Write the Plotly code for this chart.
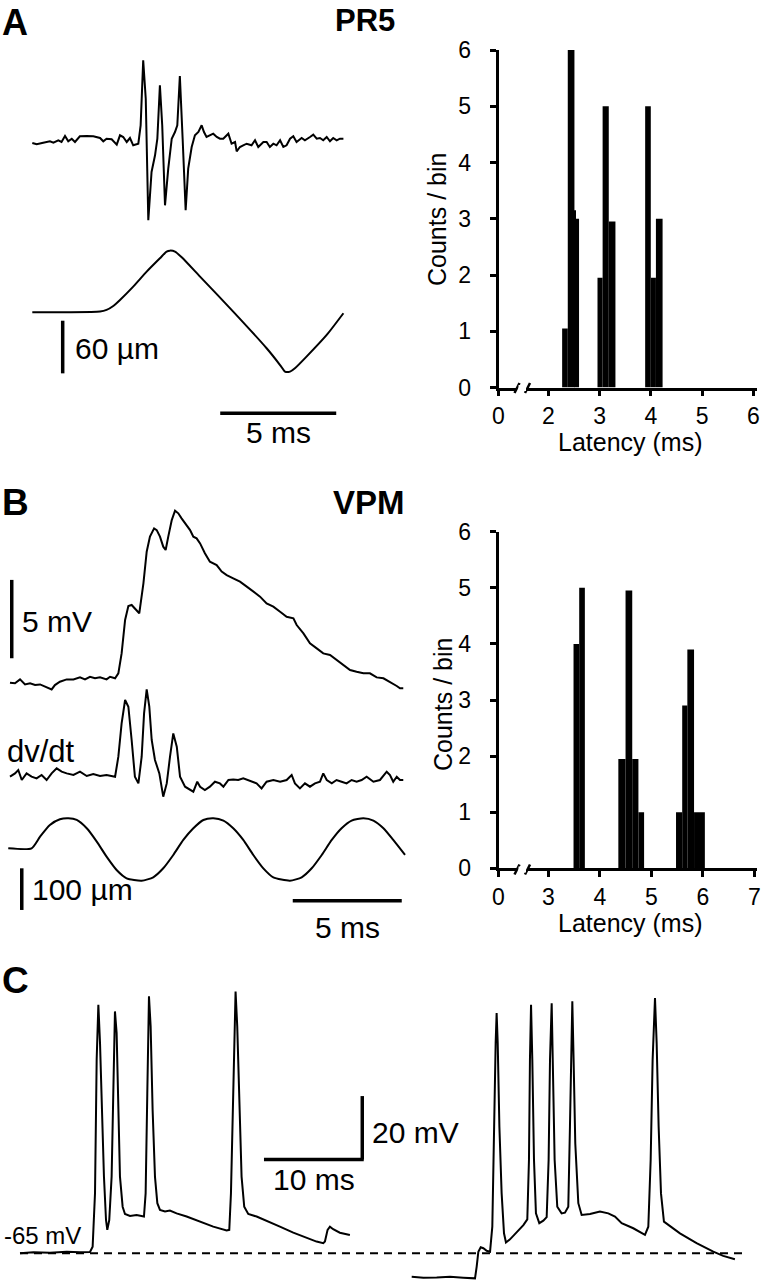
import plotly.graph_objects as go

W, H = 761, 1280
FONT = "Liberation Sans, Arial, Helvetica, sans-serif"

# ---------------- DATA ----------------
# Panel A (PR5): extracellular spike trace (a.u.) and whisker deflection (um), time in ms
A_spike_t = [0.00, 0.19, 0.47, 0.76, 0.91, 1.12, 1.26, 1.41, 1.55, 1.70,
             1.84, 2.05, 2.34, 2.63, 2.92, 3.06, 3.20, 3.42, 3.64, 3.78,
             3.92, 4.07, 4.21, 4.35, 4.57, 4.67, 4.78, 4.89, 5.00, 5.14,
             5.29, 5.39, 5.50, 5.60, 5.72, 5.86, 6.01, 6.15, 6.25, 6.36,
             6.48, 6.61, 6.72, 6.87, 7.01, 7.16, 7.30, 7.40, 7.51, 7.66,
             7.80, 7.95, 8.09, 8.23, 8.45, 8.59, 8.74, 8.81, 8.95, 9.09,
             9.24, 9.45, 9.60, 9.74, 9.96, 10.10, 10.24, 10.39, 10.53, 10.68,
             10.82, 10.96, 11.11, 11.25, 11.39, 11.61, 11.75, 11.97, 12.11, 12.26,
             12.40, 12.54, 12.69, 12.83, 12.97, 13.12, 13.26, 13.41]
A_spike_v = [0, -1.3, 0.3, 1.7, 0.3, 2.7, 1, 7, 1.7, 4.3,
             1, 6.7, 7, 6.7, 5, 1.7, 4.3, 3.7, -1.7, 7.7,
             6, 1, 5, -2.3, -0.7, 17.7, 82.7, 44.3, -77.3, -29,
             -12.3, 4.3, 57.7, 17.7, -62.3, -25.7, 4.3, 11, 17.7, 67,
             4.3, -67.3, -25.7, -4, 7.7, 11, 17.7, 11, 6, 7.7,
             9.3, 6, 4.3, 4.3, 9.3, -0.7, 1, -8.3, -4, -2.3,
             -0.7, -2.3, 2.7, -4, 1, 1, -4, -0.7, -2.3, 2.7,
             -4, -2.3, 4.3, 6.7, 1, 5, 2.7, 6, 8.3, 4.3,
             5, 2.7, 6, 1.7, 5, 2.7, 4.3, 4.3]
A_stim_t = [0.00, 1.48, 2.92, 3.20, 3.49, 3.78, 4.35, 4.93, 5.50, 5.79, 5.93, 6.15,
            6.44, 7.23, 8.66, 10.10, 10.68, 10.89, 11.11, 11.32, 11.82, 12.69, 13.41]
A_stim_um = [0, 0, 0.8, 2.7, 7.2, 14.1, 29.3, 46.4, 61.6, 69.2, 70.3, 69.2,
             62.7, 40.7, 0.8, -41, -60.1, -67.6, -67.6, -63.8, -50.5, -25.8, -1.1]

# PR5 latency histogram (bin edges in ms, counts)
PR5_bin_left = [2.27, 2.38, 2.51, 2.54, 2.96, 3.06, 3.18, 3.89, 4.00, 4.10]
PR5_bin_right = [2.38, 2.51, 2.54, 2.60, 3.06, 3.18, 3.31, 4.00, 4.10, 4.23]
PR5_counts = [1.05, 6, 3.15, 3, 1.95, 5, 2.95, 5, 1.95, 3]
PR5_xticks = [2, 3, 4, 5, 6]

# Panel B (VPM): EPSP (mV), dv/dt (a.u.), whisker deflection (um), time in ms
B_epsp_t = [0, 0.23, 0.46, 0.69, 0.92, 1.15, 1.38, 1.61, 1.91, 2.06,
            2.29, 2.60, 2.91, 3.21, 3.44, 3.67, 3.90, 4.13, 4.43, 4.59,
            4.82, 4.97, 5.12, 5.28, 5.43, 5.58, 5.73, 5.93, 6.12, 6.27,
            6.42, 6.61, 6.73, 6.88, 7.03, 7.14, 7.26, 7.42, 7.57, 7.72,
            7.87, 8.03, 8.26, 8.41, 8.56, 8.72, 8.94, 9.17, 9.48, 9.71,
            9.94, 10.24, 10.55, 10.86, 11.16, 11.47, 11.77, 12.08, 12.39, 12.69,
            13.00, 13.15, 13.46, 13.76, 14.07, 14.37, 14.68, 14.98, 15.29, 15.60,
            15.90, 16.21, 16.51, 16.82, 17.13, 17.43, 17.74, 17.89, 18.04]
B_epsp_mv = [0, -0.04, 0.21, -0.11, -0.04, -0.15, -0.11, -0.26, -0.43, -0.15,
             0.06, 0.21, 0.21, 0.34, 0.21, 0.38, 0.28, 0.34, 0.21, 0.38,
             0.28, 0.60, 1.87, 4.00, 4.89, 4.96, 4.74, 4.43, 6.34, 8.36,
             9.32, 9.85, 9.74, 9.32, 8.68, 8.47, 9.32, 10.38, 10.98, 10.81,
             10.49, 10.17, 9.74, 9.32, 9.21, 8.89, 8.26, 7.72, 7.51, 7.09,
             6.87, 6.66, 6.45, 6.13, 5.81, 5.49, 5.06, 4.85, 4.53, 4.21,
             4.11, 3.68, 3.15, 2.51, 2.19, 1.87, 1.77, 1.45, 1.13, 0.81,
             0.70, 0.60, 0.60, 0.34, 0.28, 0.06, -0.21, -0.36, -0.36]
B_dvdt_t = [0, 0.23, 0.38, 0.54, 0.76, 0.99, 1.22, 1.45, 1.68, 1.91,
            2.14, 2.37, 2.60, 2.91, 3.21, 3.52, 3.82, 4.13, 4.43, 4.82,
            4.97, 5.12, 5.28, 5.43, 5.58, 5.73, 5.89, 6.04, 6.15, 6.27,
            6.39, 6.50, 6.65, 6.85, 7.03, 7.19, 7.34, 7.49, 7.65, 7.80,
            8.03, 8.26, 8.41, 8.59, 8.72, 8.94, 9.17, 9.40, 9.63, 9.79,
            10.02, 10.24, 10.47, 10.70, 10.93, 11.16, 11.31, 11.54, 11.77, 12.08,
            12.39, 12.69, 12.92, 13.07, 13.30, 13.53, 13.76, 13.99, 14.22, 14.37,
            14.53, 14.76, 14.98, 15.21, 15.44, 15.67, 15.90, 16.13, 16.36, 16.67,
            16.97, 17.28, 17.43, 17.58, 17.74, 17.89, 18.04]
B_dvdt_v = [0, 3.3, 6.7, -3.3, 3.3, 0, -1.7, 1.7, -3.3, 3.3,
            8.3, 5, 3.3, 1.7, 5, 0.7, 2.7, 0.7, 1.7, 0,
            20, 53.3, 76.7, 70, 36.7, 0, -6.7, 20, 63.3, 87.3,
            70, 36.7, 16.7, 3.3, -20, -6.7, 20, 43.3, 30, 0,
            -10, -13.3, -15, -5, -10, -13.3, -10, -5, -6.7, -10,
            -3.3, -2.7, -3.3, -1.7, -3.3, -5, -6.7, -11.7, -5, -3.3,
            -5, -3.3, 1.7, -6.7, -11.7, -6.7, -10, -6.7, -5, 3.3,
            -3.3, -6.7, -3.3, -5, -6.7, -3.3, -5, -3.3, 0, -5,
            -3.3, 5, 1.7, -5, 0, -3.3, -3.3]
B_stim_t = [-0.08, 0.99, 1.38, 1.83, 2.29, 2.68, 3.06, 3.52, 3.98, 4.43,
            4.89, 5.35, 6.04, 6.57, 7.03, 7.49, 7.95, 8.41, 8.87, 9.33,
            9.79, 10.24, 10.70, 11.16, 11.62, 12.08, 12.84, 13.38, 13.84, 14.30,
            14.76, 15.21, 15.67, 16.21, 16.67, 17.13, 17.58, 18.12]
B_stim_um = [0, 0, 28, 56, 69.6, 72, 68, 48, 16, -20,
             -52, -72, -77.6, -69.6, -48, -16, 20, 48, 68, 72,
             66.4, 48, 20, -16, -48, -69.6, -77.6, -69.6, -48, -16,
             20, 48, 66.4, 72, 66.4, 48, 20, -16]

# VPM latency histogram
VPM_bin_left = [3.49, 3.60, 4.36, 4.50, 4.63, 4.75, 5.48, 5.60, 5.70, 5.83]
VPM_bin_right = [3.60, 3.71, 4.50, 4.63, 4.75, 4.86, 5.60, 5.70, 5.83, 6.04]
VPM_counts = [4, 5, 1.95, 4.95, 1.95, 1, 1, 2.9, 3.9, 1]
VPM_xticks = [3, 4, 5, 6, 7]
COUNT_TICKS = [0, 1, 2, 3, 4, 5, 6]

# Panel C: membrane potential (mV), time in ms
C1_t = [0, 1.36, 3.05, 4.75, 6.10, 7.12, 7.39, 7.63, 7.80, 7.97,
        8.14, 8.31, 8.54, 8.75, 8.88, 9.08, 9.32, 9.49, 9.66, 9.83,
        10.00, 10.17, 10.44, 10.68, 11.19, 11.86, 12.61, 12.78, 12.95, 13.12,
        13.29, 13.49, 13.73, 13.97, 14.24, 14.75, 15.25, 15.93, 16.95, 18.31,
        19.66, 21.02, 21.29, 21.46, 21.69, 21.93, 22.10, 22.31, 22.54, 22.81,
        23.22, 24.07, 25.08, 26.44, 27.80, 29.15, 30.17, 30.85, 31.02, 31.29,
        31.53, 31.86, 32.54, 33.56]
C1_mv = [-65, -64.7, -64.8, -64.5, -64.7, -64.6, -62.9, -46.1, -3.9, 13.4,
         1.3, -19.7, -40.8, -54.5, -57.6, -54.5, -40.8, -14.5, 11.3, 4.5,
         -19.7, -40.8, -50.3, -52.6, -53.2, -52.9, -53.4, -46.1, -14.5, 16.1,
         6.6, -19.7, -40.8, -49.2, -51.3, -51.8, -51.5, -52.4, -53.4, -55.0,
         -56.6, -57.8, -57.6, -46.1, -14.5, 17.6, 6.6, -19.7, -40.8, -50.3,
         -52.6, -53.4, -54.7, -56.6, -58.5, -60.1, -61.3, -61.8, -61.3, -57.6,
         -56.6, -57.4, -58.5, -59.2]
C2_t = [0, 1.19, 2.54, 3.90, 5.25, 6.44, 6.61, 6.78, 7.02, 7.29,
        7.63, 7.97, 8.20, 8.37, 8.54, 8.64, 8.75, 8.92, 9.15, 9.39,
        9.59, 10.00, 10.68, 11.36, 11.76, 11.93, 12.03, 12.14, 12.27, 12.44,
        12.64, 12.98, 13.39, 13.73, 13.93, 14.07, 14.24, 14.37, 14.54, 14.81,
        15.25, 15.59, 15.93, 16.10, 16.24, 16.34, 16.47, 16.64, 16.95, 17.29,
        18.14, 19.15, 20.00, 20.68, 21.36, 22.54, 23.73, 24.07, 24.31, 24.51,
        24.75, 24.92, 25.12, 25.36, 25.66, 26.27, 27.29, 28.98, 30.68, 31.69,
        32.88]
C2_mv = [-72.4, -72.7, -72.6, -72.4, -72.7, -72.9, -69.2, -64.5, -63.1, -63.4,
         -64.2, -64.5, -56.6, -25.0, 1.3, 10.8, 1.3, -25.0, -46.1, -58.7,
         -61.6, -60.6, -58.5, -56.1, -54.3, -35.5, -3.9, 13.4, -3.9, -35.5,
         -52.4, -55.5, -54.7, -53.6, -35.5, -3.9, 13.9, -3.9, -35.5, -50.3,
         -52.4, -52.2, -50.3, -25.0, 1.3, 14.5, -3.9, -30.3, -49.2, -52.9,
         -52.6, -51.8, -52.4, -53.4, -55.5, -57.1, -59.2, -56.6, -35.5, -3.9,
         15.5, 1.3, -25.0, -46.1, -55.0, -56.4, -58.7, -61.8, -64.5, -65.8,
         -66.9]
C_rest_mv = -65

# ---------------- LAYOUT HELPERS ----------------
def dx(p0, p1):
    return [p0 / W, p1 / W]


def dy(top, bot):
    return [1 - bot / H, 1 - top / H]


def px(p):
    return p / W


def py(p):
    return 1 - p / H


def trange(p0, p1, t0_px, px_per):
    return [(p0 - t0_px) / px_per, (p1 - t0_px) / px_per]


def vrange(top, bot, base_px, base_val, px_per):
    return [base_val - (bot - base_px) / px_per, base_val + (base_px - top) / px_per]


fig = go.Figure()
LINE = dict(color="black", width=2)


def add_line(t, v, xa, ya, shape="linear", smoothing=1.0):
    ln = dict(LINE, shape=shape)
    if shape == "spline":
        ln["smoothing"] = smoothing
    fig.add_trace(go.Scatter(x=t, y=v, mode="lines", line=ln,
                             xaxis=xa, yaxis=ya, hoverinfo="skip", showlegend=False))


hidden = dict(visible=False, fixedrange=True, showgrid=False, zeroline=False, automargin=False)
layout_axes = {}

# Panel A traces
A_T0, A_PPMS = 32.3, 23.2
layout_axes["xaxis"] = dict(hidden, domain=dx(0, 400), range=trange(0, 400, A_T0, A_PPMS), anchor="y")
layout_axes["yaxis"] = dict(hidden, domain=dy(50, 232), range=vrange(50, 232, 143, 0, 1.0), anchor="x")
layout_axes["xaxis2"] = dict(hidden, domain=dx(0, 400), range=trange(0, 400, A_T0, A_PPMS), anchor="y2")
layout_axes["yaxis2"] = dict(hidden, domain=dy(240, 392), range=vrange(240, 392, 312.3, 0, 1 / 1.14), anchor="x2")
add_line(A_spike_t, A_spike_v, "x", "y")
add_line(A_stim_t, A_stim_um, "x2", "y2", shape="spline", smoothing=0.6)

# Panel B traces
B_T0, B_PPMS = 10, 21.8
for i in (5, 6, 7):
    layout_axes[f"xaxis{i}"] = dict(hidden, domain=dx(0, 420), range=trange(0, 420, B_T0, B_PPMS), anchor=f"y{i}")
layout_axes["yaxis5"] = dict(hidden, domain=dy(500, 700), range=vrange(500, 700, 682.7, 0, 15.67), anchor="x5")
layout_axes["yaxis6"] = dict(hidden, domain=dy(680, 812), range=vrange(680, 812, 776.7, 0, 1.0), anchor="x6")
layout_axes["yaxis7"] = dict(hidden, domain=dy(812, 925), range=vrange(812, 925, 848.3, 0, 1 / 2.4), anchor="x7")
add_line(B_epsp_t, B_epsp_mv, "x5", "y5")
add_line(B_dvdt_t, B_dvdt_v, "x6", "y6")
add_line(B_stim_t, B_stim_um, "x7", "y7", shape="spline", smoothing=0.6)

# Panel C traces
C_PPMS, C_PPMV, C_BASE_PX = 9.83, 3.17, 1253.3
layout_axes["xaxis10"] = dict(hidden, domain=dx(0, 385), range=trange(0, 385, 20, C_PPMS), anchor="y10")
layout_axes["yaxis10"] = dict(hidden, domain=dy(955, 1280), range=vrange(955, 1280, C_BASE_PX, C_rest_mv, C_PPMV), anchor="x10")
layout_axes["xaxis11"] = dict(hidden, domain=dx(385, 761), range=trange(385, 761, 411.7, C_PPMS), anchor="y11")
layout_axes["yaxis11"] = dict(hidden, domain=dy(955, 1280), range=vrange(955, 1280, C_BASE_PX, C_rest_mv, C_PPMV), anchor="x11")
add_line(C1_t, C1_mv, "x10", "y10")
add_line(C2_t, C2_mv, "x11", "y11")

# Histograms
axstyle = dict(showline=True, linecolor="black", linewidth=2.5, ticks="outside", ticklen=6,
               tickwidth=2.5, tickcolor="black", showgrid=False, zeroline=False, fixedrange=True,
               automargin=False, tickfont=dict(family=FONT, size=23, color="black"))


def add_hist(left, right, counts, xticks, main_x, stub_x, ya, y_top, y_bot, x0_px, tick0_px, ppms):
    centers = [(l + r) / 2 for l, r in zip(left, right)]
    widths = [r - l for l, r in zip(left, right)]
    fig.add_trace(go.Bar(x=centers, y=counts, width=widths, marker=dict(color="black", line=dict(width=0)),
                         xaxis=main_x, yaxis=ya, hoverinfo="skip", showlegend=False))
    fig.add_trace(go.Scatter(x=[0], y=[0], mode="markers", marker=dict(opacity=0),
                             xaxis=stub_x, yaxis=ya, hoverinfo="skip", showlegend=False))
    mi = main_x[1:]
    si = stub_x[1:]
    yi = ya[1:]
    first = xticks[0]
    layout_axes[f"xaxis{mi}"] = dict(axstyle, domain=dx(527, 757), anchor=ya,
                                     range=[first - (tick0_px - 527) / ppms, first + (757 - tick0_px) / ppms],
                                     tickvals=xticks, ticktext=[str(v) for v in xticks])
    layout_axes[f"xaxis{si}"] = dict(axstyle, domain=dx(x0_px, 517), anchor=ya,
                                     range=[0, (517 - x0_px) / ppms], tickvals=[0], ticktext=["0"])
    layout_axes[f"yaxis{yi}"] = dict(axstyle, domain=dy(y_top, y_bot), anchor=stub_x, range=[0, 6],
                                     tickvals=COUNT_TICKS, ticktext=[str(v) for v in COUNT_TICKS],
                                     ticklabelstandoff=14)


add_hist(PR5_bin_left, PR5_bin_right, PR5_counts, PR5_xticks, "x3", "x4", "y3", 50, 387.5, 498.5, 548.3, 51.25)
add_hist(VPM_bin_left, VPM_bin_right, VPM_counts, VPM_xticks, "x8", "x9", "y8", 531.7, 868.3, 498.5, 548.3, 51.5)

# ---------------- SHAPES (scale bars, breaks, dashed line) ----------------
shapes = []
BAR = dict(color="black", width=3.5)


def seg(xref, yref, x0, y0, x1, y1, line=BAR):
    shapes.append(dict(type="line", xref=xref, yref=yref, x0=x0, y0=y0, x1=x1, y1=y1, line=line))


# A: 60 um (vertical) and 5 ms (horizontal)
seg("x2", "y2", 1.31, -9.6, 1.31, -69.6)
seg("x2", "paper", 8.1, py(413.3), 13.1, py(413.3))
# B: 5 mV, 100 um, 5 ms
seg("x5", "y5", 0.08, 1.56, 0.08, 6.56)
seg("x7", "y7", 0.54, -48, 0.54, -148)
seg("x7", "paper", 12.97, py(900.7), 17.97, py(900.7))
# C: 20 mV and 10 ms
seg("x10", "y10", 34.82, -35.4, 34.82, -15.4)
seg("x10", "y10", 24.82, -35.4, 34.82 + 0.15, -35.4)
# C: resting potential dashed line
shapes.append(dict(type="line", xref="paper", yref="y10", x0=px(20), x1=px(748), y0=C_rest_mv, y1=C_rest_mv,
                   line=dict(color="black", width=2, dash="8px,6px")))
# axis break marks
for yb in (388, 869.5):
    for xb in (517, 527.5):
        seg("paper", "paper", px(xb - 2.5), py(yb + 5), px(xb + 2.5), py(yb - 5), line=dict(color="black", width=2.5))
    shapes.append(dict(type="rect", xref="paper", yref="paper", x0=px(518.5), x1=px(526), y0=py(yb + 3), y1=py(yb - 3),
                       line=dict(width=0), fillcolor="white"))

# ---------------- ANNOTATIONS ----------------
ann = []


def text(t, x, y, size, xanchor="left", bold=False, angle=0):
    ann.append(dict(text=f"<b>{t}</b>" if bold else t, x=px(x), y=py(y), xref="paper", yref="paper",
                    xanchor=xanchor, yanchor="middle", showarrow=False, textangle=angle,
                    font=dict(family=FONT, size=size, color="black")))


text("A", 0, 23, 36, bold=True)
text("PR5", 333, 21, 31, bold=True)
text("B", 0, 502, 37, bold=True)
text("VPM", 331, 502, 33, bold=True)
text("C", 0, 980, 37, bold=True)

text("60 µm", 73, 348, 30)
text("5 ms", 278.3, 432, 30, xanchor="center")
text("5 mV", 20, 621, 30)
text("dv/dt", 5, 751, 31)
text("100 µm", 30, 889, 30)
text("5 ms", 347.3, 927, 30, xanchor="center")
text("20 mV", 370, 1132, 30)
text("10 ms", 314, 1179, 30, xanchor="center")
text("-65 mV", 2, 1235, 24)

text("Counts / bin", 437, 220, 25, xanchor="center", angle=-90)
text("Latency (ms)", 630, 442, 25, xanchor="center")
text("Counts / bin", 443, 705, 25, xanchor="center", angle=-90)
text("Latency (ms)", 630, 923, 25, xanchor="center")

fig.update_layout(template="none", width=W, height=H, margin=dict(l=0, r=0, t=0, b=0, autoexpand=False),
                  paper_bgcolor="white", plot_bgcolor="rgba(0,0,0,0)",
                  showlegend=False, barmode="overlay", shapes=shapes, annotations=ann,
                  **layout_axes)

fig.write_html("out.html", config={"responsive": False, "displayModeBar": False},
               post_script="document.body.style.margin='0px';document.body.style.overflow='hidden';")
